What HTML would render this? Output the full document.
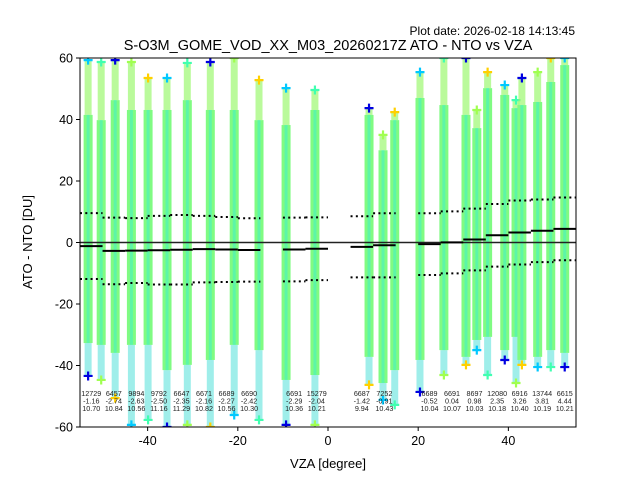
<!DOCTYPE html>
<html><head><meta charset="utf-8">
<style>
body{margin:0;background:#fff;}
svg{display:block;font-family:"Liberation Sans","DejaVu Sans",sans-serif;}
</style></head>
<body>
<svg id="chart" width="640" height="480" viewBox="0 0 640 480">
<text x="575" y="35" font-size="12" text-anchor="end">Plot date: 2026-02-18 14:13:45</text>
<text x="328" y="50" font-size="14.5" text-anchor="middle">S-O3M_GOME_VOD_XX_M03_20260217Z ATO - NTO vs VZA</text>
<text x="328" y="468" font-size="13" text-anchor="middle">VZA [degree]</text>
<text transform="translate(32,242) rotate(-90)" font-size="13" text-anchor="middle">ATO - NTO [DU]</text>
<g id="plot"></g>
</svg>
<script>
// scatter columns
const colX   = [-53.2,-50.3,-47.2,-43.6,-39.9,-35.7,-31.2,-26.1,-20.8,-15.3,-9.3,-2.9, 9.1,12.2,14.8,20.4,25.7,30.6,33.0,35.4,39.2,41.7,43.0,46.5,49.4,52.5];
const colMax = [59.3,58.7,59.3,58.7,53.5,53.5,58.4,58.7,60,52.8,50.2,49.6, 43.7,35,42.4,55.4,60,60,43.1,55.4,51.2,46.3,53.5,55.4,60,60];
const colTop = [41.5,39.8,46.3,43.1,43.1,43.1,46.3,43.1,43.1,39.8,38.2,43.1, 41.5,30,39.8,47,44.7,41.5,37.2,50.2,48,43.7,44.7,45.7,52.2,57.7];
const colBot = [-32.7,-33.3,-35.9,-33.3,-33.3,-41.5,-39.8,-38.2,-33.3,-35,-44.7,-43.1, -37.2,-45.7,-41.5,-38.2,-35,-37.2,-31.7,-30.7,-35,-30.7,-38.2,-37.2,-35,-35.9];
const colMin = [-43.4,-44.7,-50.6,-59.3,-57.7,-60,-59.3,-60,-56.1,-57.7,-59.3,-59.3, -46.3,-51.2,-52.8,-48.6,-43.1,-39.8,-35,-43.1,-38.2,-45.7,-39.8,-40.5,-40.5,-40.5];
// binned statistics
const binLo  = [-55,-50,-45,-40,-35,-30,-25,-20,-10,-5, 5,10,20,25,30,35,40,45,50];
const binHi  = [-50,-45,-40,-35,-30,-25,-20,-15,-5,0, 10,15,25,30,35,40,45,50,55];
const binN   = [12729,6457,9894,9792,6647,6671,6689,6690,6691,15279, 6687,7252,6689,6691,8697,12080,6916,13744,6615];
const binMean= [-1.16,-2.74,-2.63,-2.50,-2.35,-2.16,-2.27,-2.42,-2.29,-2.04, -1.42,-0.91,-0.52,0.04,0.98,2.35,3.26,3.81,4.44];
const binStd = [10.70,10.84,10.56,11.16,11.29,10.82,10.56,10.30,10.36,10.21, 9.94,10.43,10.04,10.07,10.03,10.18,10.40,10.19,10.21];
const xTicks = [-40,-20,0,20,40];
const yTicks = [-60,-40,-20,0,20,40,60];

const L=80,R=576,T=58,B=427,xmin=-55,xmax=55,ymin=-60,ymax=60;
const sx=v=>L+(v-xmin)/(xmax-xmin)*(R-L);
const sy=v=>B-(v-ymin)/(ymax-ymin)*(B-T);
const NS="http://www.w3.org/2000/svg";
const g=document.getElementById('plot');
function mk(tag,attrs,parent){const e=document.createElementNS(NS,tag);for(const k in attrs)e.setAttribute(k,attrs[k]);(parent||g).appendChild(e);return e;}

const clip=mk('clipPath',{id:'pc'});mk('rect',{x:L,y:T,width:R-L,height:B-T},clip);
const pg=mk('g',{'clip-path':'url(#pc)'});


const topCols=['#00c8ff','#40ffb0','#0000e0','#a0ff50','#ffd000'];
function cross(x,y,c,p){
  const e=mk('path',{d:`M${x-4.5},${y}h9M${x},${y-4.5}v9`,stroke:c,'stroke-width':2.2,fill:'none'},p);
  
  
}
colX.forEach((x,i)=>{
  const cx=sx(x);
  const cg=mk('g',{},pg);
  
  
  mk('rect',{x:cx-3.5,y:sy(colMax[i]),width:7,height:sy(colTop[i])-sy(colMax[i]),fill:'#9cf870',opacity:0.7},cg);
  mk('rect',{x:cx-3.5,y:sy(colBot[i]),width:7,height:sy(colMin[i])-sy(colBot[i]),fill:'#50e0d8',opacity:0.55},cg);
  const b=mk('rect',{x:cx-4.5,y:sy(colTop[i]),width:9,height:sy(colBot[i])-sy(colTop[i]),fill:'#80fb82'},cg);
  
  
  mk('rect',{x:cx-1.5,y:sy(colTop[i]),width:3,height:sy(colBot[i])-sy(colTop[i]),fill:'#40f0c8',opacity:0.55},cg);
  cross(cx,sy(colMax[i]),topCols[i%5],cg);
  cross(cx,sy(colMin[i]),topCols[(i+2)%5],cg);
});
mk('line',{x1:L,x2:R,y1:sy(0),y2:sy(0),stroke:'#222','stroke-width':1.5});
binLo.forEach((lo,i)=>{
  const x1=sx(Math.max(lo,xmin)),x2=sx(binHi[i]),m=binMean[i],s=binStd[i];
  const ml=mk('line',{x1,x2,y1:sy(m),y2:sy(m),stroke:'#000','stroke-width':2});
  
  
  [m+s,m-s].forEach(v=>{
    const d=mk('line',{x1,x2,y1:sy(v),y2:sy(v),stroke:'#000','stroke-width':2,'stroke-dasharray':'2,3.3'});
    
    
  });
  const cx=sx((lo+binHi[i])/2);
  const t=mk('text',{x:cx,'font-size':7.2,'text-anchor':'middle',fill:'#222'});
  
  
  [String(binN[i]),m.toFixed(2),s.toFixed(2)].forEach((s2,k)=>{const ts=mk('tspan',{x:cx,y:396+k*7.5},t);ts.textContent=s2;});
});
const fr=mk('rect',{x:L,y:T,width:R-L,height:B-T,fill:'none',stroke:'#000','stroke-width':1});


xTicks.forEach(v=>{
  mk('line',{x1:sx(v),x2:sx(v),y1:B,y2:B+4,stroke:'#000'});
  const t=mk('text',{x:sx(v),y:B+18,'font-size':12.5,'text-anchor':'middle'});
  t.textContent=String(v);
  
  
});
yTicks.forEach(v=>{
  mk('line',{x1:L-4,x2:L,y1:sy(v),y2:sy(v),stroke:'#000'});
  const t=mk('text',{x:L-7,y:sy(v)+4.5,'font-size':12.5,'text-anchor':'end'});
  t.textContent=String(v);
  
  
});
</script>
</body></html>
